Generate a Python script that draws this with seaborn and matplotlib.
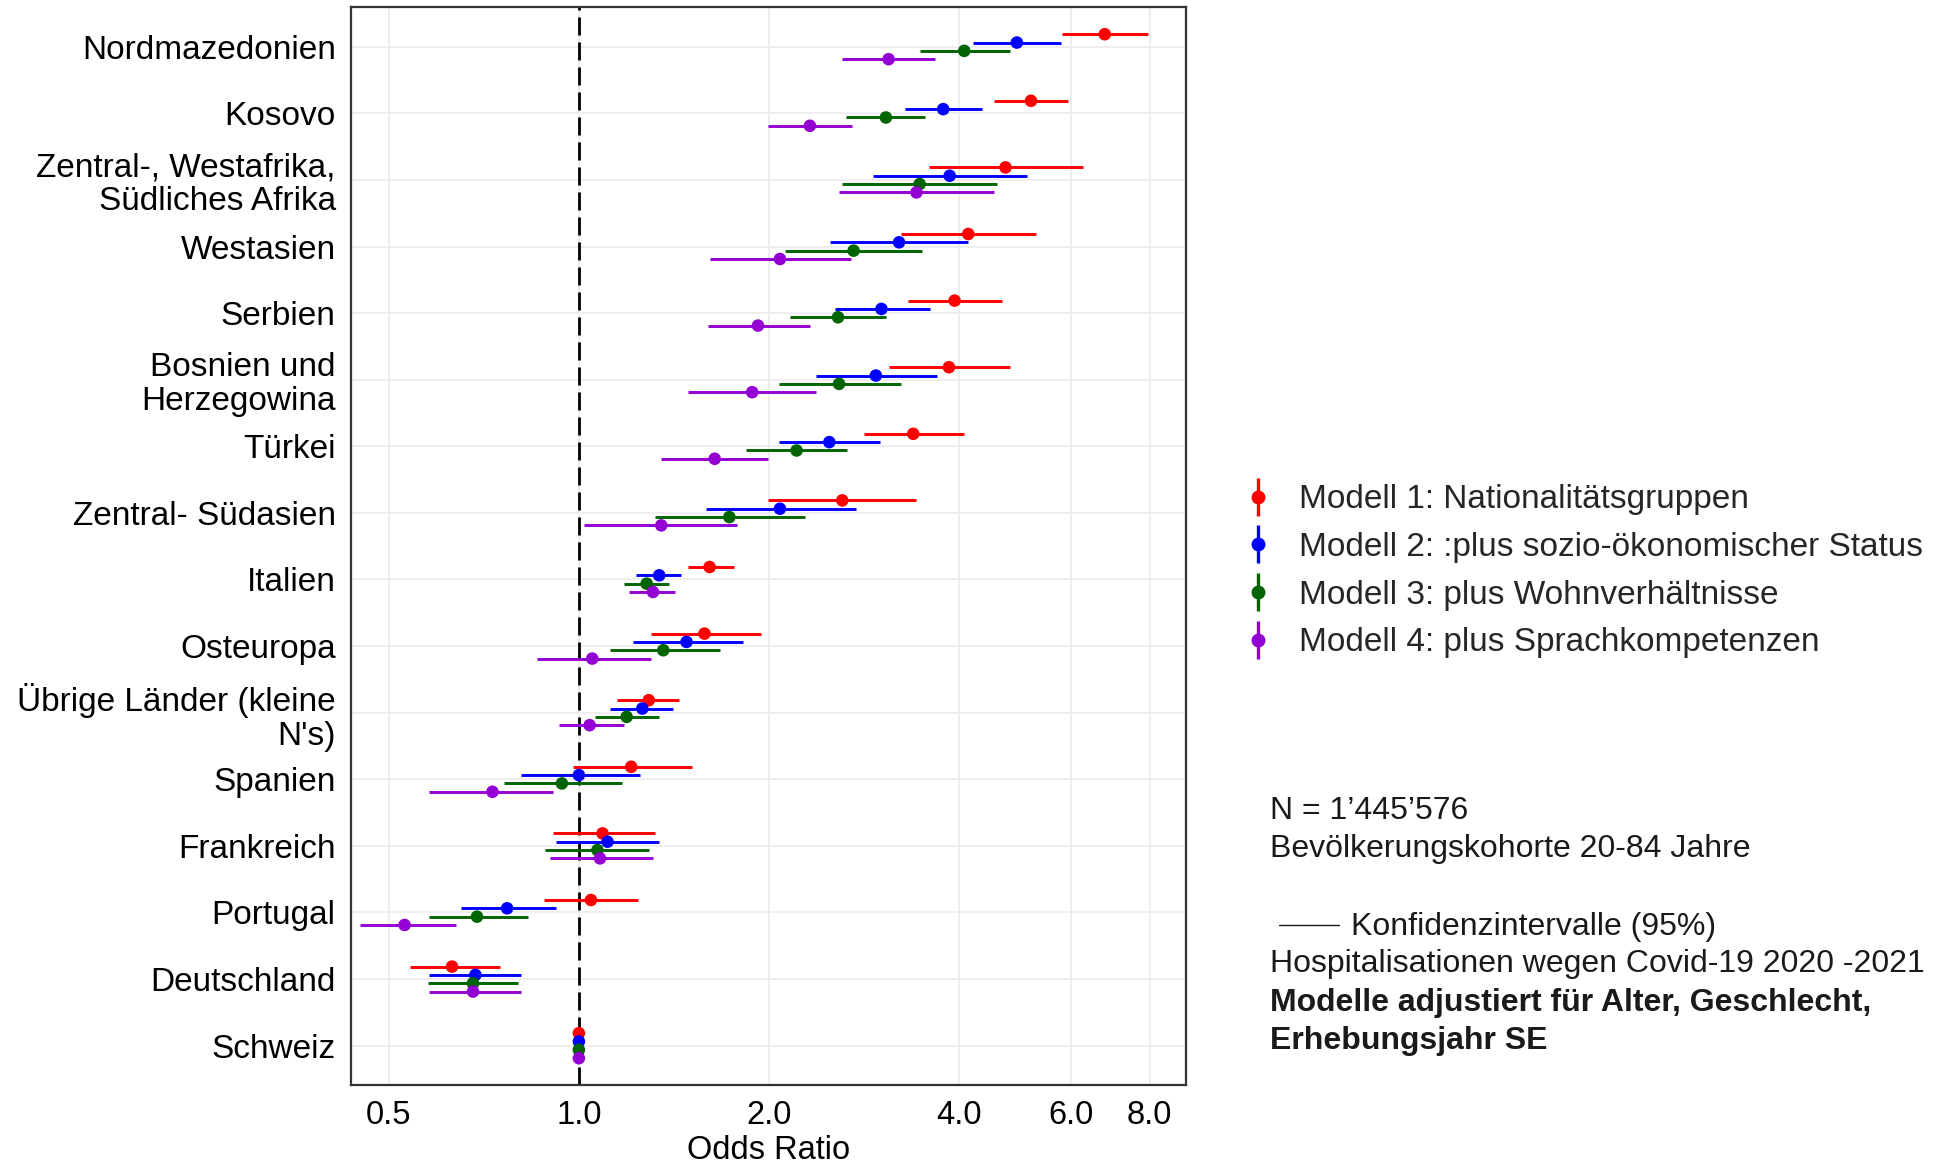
import matplotlib
matplotlib.use("Agg")
import matplotlib.pyplot as plt
from matplotlib.lines import Line2D
from matplotlib.ticker import NullLocator
import pandas as pd
import seaborn as sns

# ---------------------------------------------------------------- data
categories = [
    "Nordmazedonien", "Kosovo", "Zentral-, Westafrika,\nSüdliches Afrika",
    "Westasien", "Serbien", "Bosnien und\nHerzegowina", "Türkei",
    "Zentral- Südasien", "Italien", "Osteuropa", "Übrige Länder (kleine\nN's)",
    "Spanien", "Frankreich", "Portugal", "Deutschland", "Schweiz",
]

models = [
    "Modell 1: Nationalitätsgruppen",
    "Modell 2: :plus sozio-ökonomischer Status",
    "Modell 3: plus Wohnverhältnisse",
    "Modell 4: plus Sprachkompetenzen",
]

m1_or = [6.79, 5.19, 4.73, 4.13, 3.93, 3.85, 3.38, 2.61, 1.61, 1.58, 1.29, 1.21, 1.09, 1.045, 0.63, 1.0]
m1_lo = [5.81, 4.53, 3.58, 3.23, 3.32, 3.10, 2.83, 1.99, 1.49, 1.30, 1.15, 0.98, 0.91, 0.88, 0.54, 1.0]
m1_hi = [7.94, 5.95, 6.27, 5.29, 4.67, 4.80, 4.06, 3.42, 1.76, 1.94, 1.44, 1.51, 1.32, 1.24, 0.75, 1.0]

m2_or = [4.93, 3.77, 3.86, 3.21, 3.01, 2.95, 2.49, 2.08, 1.34, 1.48, 1.26, 1.00, 1.11, 0.77, 0.686, 1.0]
m2_lo = [4.20, 3.28, 2.92, 2.50, 2.54, 2.37, 2.07, 1.59, 1.23, 1.22, 1.12, 0.81, 0.92, 0.65, 0.58, 1.0]
m2_hi = [5.79, 4.34, 5.11, 4.12, 3.59, 3.68, 2.99, 2.74, 1.45, 1.82, 1.41, 1.25, 1.34, 0.92, 0.81, 1.0]

m3_or = [4.07, 3.06, 3.46, 2.72, 2.57, 2.58, 2.21, 1.73, 1.28, 1.36, 1.19, 0.94, 1.07, 0.69, 0.68, 1.0]
m3_lo = [3.47, 2.65, 2.61, 2.12, 2.16, 2.07, 1.84, 1.32, 1.18, 1.12, 1.06, 0.76, 0.885, 0.58, 0.578, 1.0]
m3_hi = [4.80, 3.53, 4.58, 3.49, 3.06, 3.23, 2.66, 2.28, 1.39, 1.67, 1.34, 1.17, 1.29, 0.83, 0.80, 1.0]

m4_or = [3.09, 2.32, 3.42, 2.08, 1.92, 1.88, 1.64, 1.35, 1.31, 1.05, 1.04, 0.73, 1.08, 0.53, 0.68, 1.0]
m4_lo = [2.61, 1.99, 2.58, 1.61, 1.60, 1.49, 1.35, 1.02, 1.20, 0.86, 0.93, 0.58, 0.90, 0.45, 0.58, 1.0]
m4_hi = [3.66, 2.70, 4.54, 2.69, 2.32, 2.37, 1.99, 1.78, 1.42, 1.30, 1.18, 0.91, 1.31, 0.64, 0.81, 1.0]

x_ticks = [0.5, 1.0, 2.0, 4.0, 6.0, 8.0]
x_tick_labels = ["0.5", "1.0", "2.0", "4.0", "6.0", "8.0"]

model_colors = ["#FF0000", "#0000FF", "#006400", "#9400D3"]

# ---------------------------------------------------------------- long table
estimates = [(m1_or, m1_lo, m1_hi), (m2_or, m2_lo, m2_hi),
             (m3_or, m3_lo, m3_hi), (m4_or, m4_lo, m4_hi)]
dodge = [-0.1875, -0.0625, 0.0625, 0.1875]

rows = []
for mi, (o, lo, hi) in enumerate(estimates):
    for ci, cat in enumerate(categories):
        rows.append({"model": models[mi], "category": cat,
                     "pos": ci + dodge[mi], "or": o[ci], "lo": lo[ci], "hi": hi[ci]})
df = pd.DataFrame(rows)

# ---------------------------------------------------------------- style
sns.set_theme(style="white")
plt.rcParams["font.family"] = ["Liberation Sans", "DejaVu Sans"]

fig = plt.figure(figsize=(19.52, 11.65), dpi=100)
ax = fig.add_axes([0.1798, 0.0687, 0.4278, 0.9255])

ax.axvline(1.0, color="black", lw=2.0, dashes=(6.5, 2.5), zorder=1.5)

for mi, m in enumerate(models):
    sub = df[df["model"] == m]
    ax.hlines(sub["pos"], sub["lo"], sub["hi"], colors=model_colors[mi],
              linewidth=2.1, zorder=2)

sns.scatterplot(data=df, x="or", y="pos", hue="model", hue_order=models,
                palette=model_colors, marker="o", s=82, linewidth=0,
                legend=False, zorder=3, ax=ax)

ax.set_xscale("log", base=2)
ax.set_xlim(0.436, 9.13)
ax.set_xticks(x_ticks)
ax.set_xticklabels(x_tick_labels, fontsize=23.5, color="black")
ax.xaxis.set_minor_locator(NullLocator())

ax.set_ylim(15.59, -0.6)
ax.set_yticks(range(len(categories)))
ax.set_yticklabels(categories, fontsize=24, color="black", linespacing=1.1)

ax.set_xlabel("Odds Ratio", fontsize=23.5, color="black", labelpad=3)
ax.set_ylabel("")

ax.grid(True, color="#EBEBEB", linewidth=1.2)
ax.set_axisbelow(True)
for sp in ax.spines.values():
    sp.set_color("#333333")
    sp.set_linewidth(1.6)
ax.tick_params(axis="both", length=5, width=1.4, color="#333333")
ax.tick_params(axis="y", pad=6)
ax.tick_params(axis="x", pad=6)

# ---------------------------------------------------------------- legend
handles = [
    (Line2D([], [], color=c, marker="|", markersize=27, markeredgewidth=2.4, ls="none"),
     Line2D([], [], color=c, marker="o", markersize=9, ls="none"))
    for c in model_colors
]
fig.legend(handles, models, loc="center left", bbox_to_anchor=(0.6361, 0.5095),
           frameon=False, borderaxespad=0, borderpad=0,
           handlelength=1.0, handletextpad=0.72, labelspacing=0.5,
           prop={"size": 24})

# ---------------------------------------------------------------- notes
H = 1165
W = 1952
note_x = 1270 / W
txt_color = "#1a1a1a"
note_kw = dict(fontsize=23, color=txt_color, va="center", ha="left")
fig.text(note_x, 1 - 811 / H, "N = 1\u2019445\u2019576", **note_kw)
fig.text(note_x, 1 - 849 / H, "Bevölkerungskohorte 20-84 Jahre", **note_kw)
fig.add_artist(Line2D([1279 / W, 1339 / W], [1 - 925 / H, 1 - 925 / H],
                      color=txt_color, lw=1.0, transform=fig.transFigure))
fig.text(1351 / W, 1 - 927 / H, "Konfidenzintervalle (95%)", **note_kw)
fig.text(note_x, 1 - 964 / H, "Hospitalisationen wegen Covid-19 2020 -2021", **note_kw)
fig.text(note_x, 1 - 1003 / H, "Modelle adjustiert für Alter, Geschlecht,",
         fontweight="bold", **note_kw)
fig.text(note_x, 1 - 1041 / H, "Erhebungsjahr SE", fontweight="bold", **note_kw)

fig.savefig("out.png", dpi=100, facecolor="white")
